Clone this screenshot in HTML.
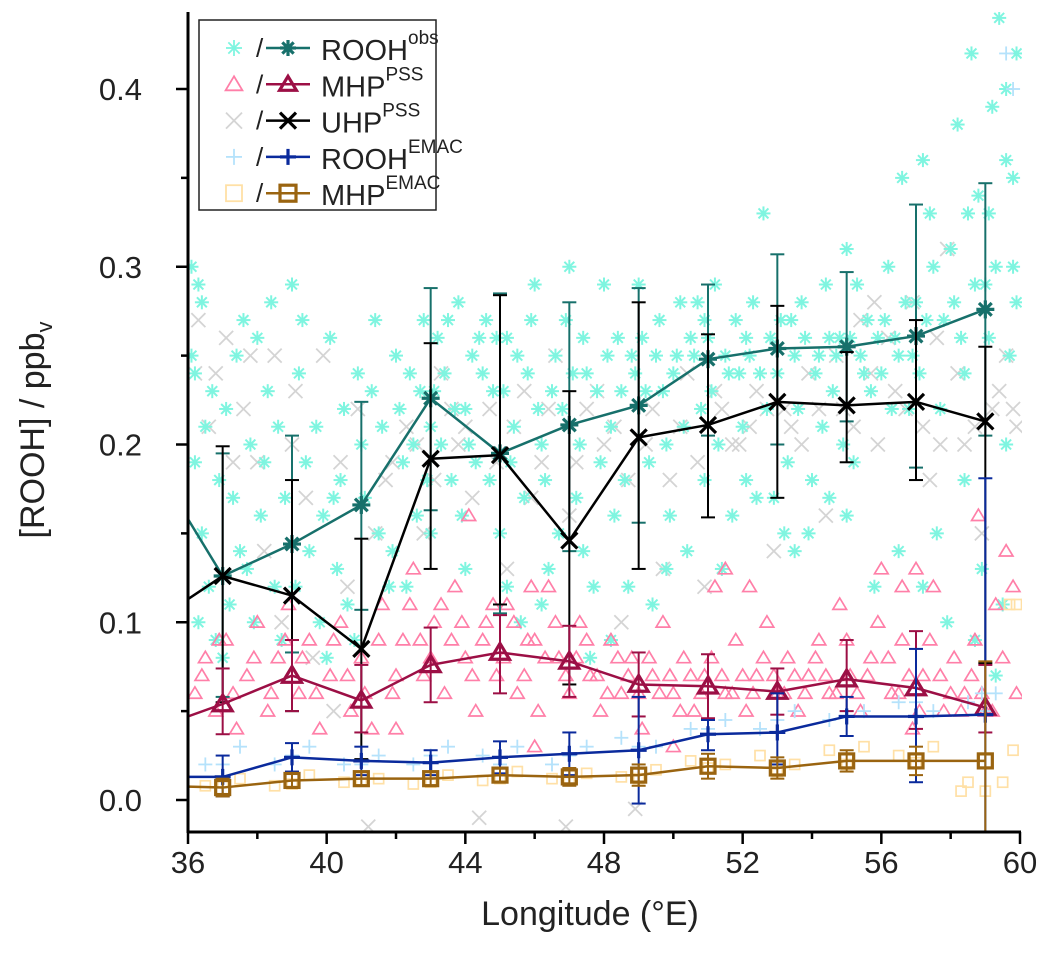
<!DOCTYPE html>
<html><head><meta charset="utf-8"><style>
body{margin:0;background:#fff;}
svg{font-family:"Liberation Sans",Arial,sans-serif;}
</style></head><body>
<svg id="chart" width="1048" height="965" viewBox="0 0 1048 965" xmlns="http://www.w3.org/2000/svg">
<defs><clipPath id="pc"><rect x="188" y="12" width="834" height="820"/></clipPath></defs>
<g id="scatter" clip-path="url(#pc)"></g>
<g id="lines" clip-path="url(#pc)"></g>
<g id="axes"></g>
<text x="590" y="925" font-size="34" text-anchor="middle" fill="#222">Longitude (°E)</text>
<text transform="translate(44,430) rotate(-90)" font-size="34" text-anchor="middle" fill="#222">[ROOH] / ppb<tspan font-size="22" dy="8">v</tspan></text>
<g id="legend"></g>
</svg>
<script>
const xTicks=[36,40,44,48,52,56,60];
const yTicks=[0.0,0.1,0.2,0.3,0.4];
const meanX=[35,37,39,41,43,45,47,49,51,53,55,57,59];
const obsMean=[0.19,0.126,0.144,0.166,0.226,0.195,0.211,0.222,0.248,0.254,0.255,0.261,0.276];
const obsHi=[null,0.195,0.205,0.224,0.288,0.285,0.280,0.288,0.290,0.307,0.297,0.335,0.347];
const obsLo=[null,0.058,0.083,0.107,0.163,0.105,0.140,0.156,0.205,0.200,0.213,0.187,0.205];
const uhpMean=[0.10,0.126,0.115,0.085,0.192,0.194,0.146,0.204,0.211,0.224,0.222,0.224,0.213];
const uhpHi=[null,0.199,0.180,0.147,0.257,0.284,0.230,0.280,0.262,0.278,0.252,0.270,0.255];
const uhpLo=[null,0.055,0.050,0.023,0.130,0.110,0.065,0.130,0.159,0.170,0.190,0.180,0.077];
const mhpMean=[0.04,0.054,0.070,0.056,0.076,0.083,0.078,0.065,0.064,0.061,0.068,0.063,0.052];
const mhpHi=[null,0.074,0.090,0.076,0.097,0.104,0.098,0.083,0.082,0.074,0.090,0.095,0.076];
const mhpLo=[null,0.037,0.050,0.038,0.055,0.060,0.058,0.047,0.046,0.048,0.050,0.040,0.038];
const emacMean=[0.013,0.013,0.024,0.022,0.021,0.024,0.026,0.028,0.037,0.038,0.047,0.047,0.048];
const emacHi=[null,0.025,0.032,0.030,0.028,0.033,0.038,0.058,0.045,0.060,0.058,0.085,0.181];
const emacLo=[null,0.002,0.016,0.014,0.014,0.015,0.014,-0.002,0.028,0.020,0.036,0.010,-0.030];
const mhpEmacMean=[0.008,0.007,0.011,0.012,0.012,0.014,0.013,0.014,0.019,0.018,0.022,0.022,0.022];
const mhpEmacHi=[null,0.012,0.015,0.016,0.016,0.018,0.018,0.020,0.026,0.024,0.028,0.030,0.078];
const mhpEmacLo=[null,0.002,0.007,0.008,0.008,0.010,0.008,0.008,0.012,0.012,0.016,0.014,-0.030];
const cyanPts=[36.1,.30,36.3,.29,36.2,.24,36.5,.21,36.2,.19,36.4,.15,36.6,.12,36.3,.10,36.8,.09,37.0,.08,37.2,.11,37.5,.14,37.3,.17,37.8,.20,37.6,.27,38.0,.26,38.3,.23,38.1,.16,38.5,.12,38.7,.09,39.0,.29,39.2,.24,39.4,.19,39.5,.14,39.8,.10,40.0,.08,40.2,.17,40.5,.22,40.3,.13,40.8,.09,41.0,.20,41.3,.23,41.5,.15,41.8,.12,42.0,.25,42.2,.19,42.4,.24,42.6,.16,42.8,.27,43.0,.21,43.2,.26,43.4,.24,43.6,.18,43.8,.28,44.0,.22,44.2,.25,44.3,.19,44.6,.27,44.8,.23,45.0,.15,45.2,.26,45.4,.21,45.6,.10,45.8,.24,46.0,.29,46.2,.20,46.4,.13,46.6,.25,46.8,.22,47.0,.30,47.2,.17,47.4,.26,47.6,.08,47.8,.23,48.0,.29,48.2,.21,48.4,.26,48.6,.18,48.8,.25,49.0,.29,49.2,.23,49.4,.11,49.6,.27,49.8,.20,50.0,.24,50.2,.28,50.4,.14,50.6,.25,50.8,.22,51.0,.26,51.2,.29,51.4,.13,51.6,.24,51.8,.27,52.0,.21,52.2,.25,52.4,.17,52.6,.33,52.8,.26,53.0,.24,53.2,.15,53.4,.27,53.6,.22,53.8,.26,54.0,.18,54.2,.25,54.4,.29,54.6,.23,54.8,.26,55.0,.31,55.2,.19,55.4,.25,55.6,.27,55.8,.12,56.0,.24,56.2,.30,56.4,.26,56.6,.35,56.8,.22,57.0,.28,57.2,.36,57.4,.33,57.6,.15,57.8,.27,58.0,.31,58.2,.38,58.4,.24,58.6,.42,58.8,.34,59.0,.29,59.2,.39,59.4,.44,59.6,.36,59.8,.30,59.9,.42,59.5,.11,58.9,.13,57.9,.10,59.7,.25,44.5,.24,45.5,.25,46.5,.23,47.5,.24,49.5,.25,50.5,.26,51.5,.25,52.5,.24,53.5,.25,54.5,.26,55.5,.24,56.5,.25,51.7,.16,52.9,.17,53.9,.15,55.0,.16,43.1,.23,44.9,.26,46.9,.27,48.9,.24,50.9,.27,52.1,.26,54.1,.24,56.1,.27,58.1,.28,59.1,.33,
36.1,.25,36.4,.28,36.7,.23,36.9,.18,37.1,.22,37.4,.25,37.7,.13,37.9,.10,38.2,.19,38.4,.28,38.6,.21,38.8,.17,39.1,.12,39.3,.27,39.7,.21,39.9,.16,40.1,.26,40.4,.18,40.6,.11,40.9,.24,41.1,.17,41.4,.27,41.6,.21,41.9,.14,42.1,.22,42.3,.12,42.5,.20,42.7,.23,42.9,.18,43.3,.20,43.5,.27,43.7,.22,43.9,.16,44.1,.20,44.4,.26,44.7,.18,45.1,.23,45.3,.19,45.7,.17,45.9,.27,46.1,.22,46.3,.18,46.7,.15,47.1,.24,47.3,.20,47.7,.12,47.9,.19,48.1,.25,48.3,.16,48.5,.23,48.7,.12,49.1,.26,49.3,.19,49.7,.23,49.9,.16,50.1,.25,50.3,.21,50.7,.28,51.1,.23,51.3,.20,51.9,.24,52.3,.28,52.7,.22,53.1,.27,53.3,.19,53.7,.28,54.3,.21,54.7,.25,54.9,.20,55.1,.26,55.3,.29,55.7,.23,55.9,.26,56.3,.22,56.7,.28,56.9,.25,57.1,.24,57.3,.27,57.5,.30,57.7,.22,58.3,.26,58.5,.33,58.7,.29,59.1,.26,59.3,.30,59.6,.40,59.8,.35,59.9,.28,58.4,.18,57.2,.12,56.5,.14,58.7,.09,59.3,.07,59.6,.20,46.2,.11,47.4,.14,48.2,.09,49.8,.13,45.2,.12,50.9,.18,52.1,.18,53.5,.14,54.5,.17,44.0,.13,43.0,.15];
const pinkPts=[36.2,.06,36.5,.08,36.8,.05,37.1,.09,37.4,.04,37.7,.07,38.0,.10,38.3,.05,38.6,.08,38.9,.11,39.2,.06,39.5,.09,39.8,.04,40.1,.07,40.4,.10,40.7,.05,41.0,.08,41.3,.04,41.6,.11,41.9,.06,42.2,.09,42.5,.13,42.8,.07,43.1,.10,43.4,.06,43.7,.12,44.0,.08,44.3,.05,44.6,.10,44.9,.07,45.2,.11,45.5,.06,45.8,.09,46.1,.05,46.4,.12,46.7,.08,47.0,.06,47.3,.10,47.6,.07,47.9,.05,48.2,.09,48.5,.06,48.8,.08,49.1,.04,49.4,.07,49.7,.10,50.0,.06,50.3,.08,50.6,.05,50.9,.07,51.2,.12,51.5,.06,51.8,.09,52.1,.05,52.4,.07,52.7,.10,53.0,.06,53.3,.08,53.6,.05,53.9,.07,54.2,.09,54.5,.06,54.8,.11,55.1,.07,55.4,.05,55.7,.08,56.0,.13,56.3,.06,56.6,.09,56.9,.04,57.2,.07,57.5,.12,57.8,.05,58.1,.08,58.4,.06,58.7,.09,59.0,.05,59.3,.11,59.6,.14,59.9,.06,44.1,.16,52.2,.12,58.8,.16,42.0,.04,46.0,.03,50.0,.03,
36.4,.07,36.9,.09,37.3,.06,37.9,.08,38.4,.06,38.8,.09,39.3,.08,39.7,.06,40.2,.09,40.6,.07,41.1,.06,41.5,.09,42.0,.07,42.4,.11,42.7,.09,43.0,.08,43.3,.11,43.6,.09,43.9,.10,44.2,.07,44.5,.09,44.8,.11,45.1,.08,45.4,.10,45.7,.07,46.0,.09,46.3,.08,46.6,.10,46.9,.07,47.2,.08,47.5,.09,47.8,.07,48.1,.06,48.4,.08,48.7,.07,49.0,.06,49.3,.08,49.6,.06,49.9,.07,50.2,.05,50.5,.07,50.8,.06,51.1,.08,51.4,.07,51.7,.06,52.0,.07,52.3,.06,52.6,.08,52.9,.07,53.2,.06,53.5,.07,53.8,.06,54.1,.08,54.4,.07,54.7,.06,55.0,.09,55.3,.06,55.6,.07,55.9,.10,56.2,.08,56.5,.06,56.8,.07,57.1,.05,57.4,.09,57.7,.07,58.0,.06,58.3,.05,58.6,.07,58.9,.06,59.2,.05,59.5,.08,59.8,.12,57.0,.13,56.6,.12,51.5,.13,45.9,.12];
const greyPts=[36.3,.27,36.8,.24,37.3,.19,37.8,.25,38.2,.14,38.7,.10,39.1,.23,39.6,.08,40.2,.05,40.6,.12,41.2,-.015,41.7,.18,42.3,.21,42.8,.15,43.3,.24,43.8,.20,44.2,.17,44.4,-.01,44.7,.22,45.2,.13,45.7,.23,46.2,.19,46.6,.25,47.0,.16,46.9,-.015,47.5,.22,48.0,.20,48.5,.10,48.9,-.005,49.4,.22,49.9,.18,50.4,.24,50.9,.12,51.4,.22,51.9,.20,52.4,.23,52.9,.14,53.4,.21,53.9,.24,54.4,.16,54.9,.22,55.4,.27,55.9,.20,56.4,.23,56.9,.28,57.4,.18,57.9,.31,58.4,.20,58.9,.15,59.4,.23,59.8,.22,59.6,.25,
36.2,.24,36.6,.21,37.1,.26,37.6,.22,38.0,.19,38.5,.25,39.0,.20,39.4,.17,39.9,.25,40.4,.19,40.9,.22,41.4,.15,41.9,.19,42.6,.20,43.1,.18,43.6,.22,44.0,.21,44.9,.19,45.4,.21,45.9,.17,46.4,.22,47.2,.19,47.8,.23,48.3,.21,48.7,.18,49.2,.20,49.7,.13,50.2,.21,50.7,.19,51.2,.23,51.7,.20,52.2,.21,52.7,.22,53.2,.22,53.7,.20,54.2,.22,54.7,.25,55.2,.21,55.7,.24,56.2,.26,56.7,.22,57.2,.21,57.7,.20,58.2,.24,58.7,.21,59.2,.22,59.9,.21,57.6,.26,55.8,.28];
const bluePts=[36.5,.02,37.5,.03,38.5,.02,39.5,.03,40.5,.02,41.5,.025,42.5,.02,43.5,.03,44.5,.025,45.5,.03,46.5,.02,47.5,.03,48.5,.035,49.5,.03,50.5,.04,51.5,.045,52.5,.04,53.5,.05,54.5,.045,55.5,.05,56.5,.055,57.5,.05,58.5,.055,59.3,.06,59.8,.40,59.6,.42,58.9,.06,37.0,.02,39.0,.025,41.0,.02,43.0,.025,45.0,.02,47.0,.025,49.0,.03,51.0,.04,53.0,.045,55.0,.05,57.0,.055,59.0,.05];
const tanPts=[36.5,.008,37.5,.012,38.5,.008,39.5,.014,40.5,.01,41.5,.012,42.5,.009,43.5,.014,44.5,.011,45.5,.016,46.5,.012,47.5,.015,48.5,.013,49.5,.017,50.5,.022,51.5,.02,52.5,.025,53.5,.02,54.5,.028,55.5,.03,56.5,.025,57.5,.03,58.5,.01,59.0,.005,59.5,.01,59.8,.028,59.7,.11,59.9,.11,58.3,.005,37.0,.01,39.0,.009,41.0,.011,43.0,.01,45.0,.012,47.0,.011,49.0,.012,51.0,.018,53.0,.016,55.0,.02,57.0,.021];

const NS='http://www.w3.org/2000/svg';
const X0=188,X1=1020,Y0=800,PPU=1777.5;
const sx=v=>X0+(v-36)*(X1-X0)/24;
const sy=v=>Y0-v*PPU;
function mk(tag,attrs,parent){const e=document.createElementNS(NS,tag);for(const k in attrs)e.setAttribute(k,attrs[k]);parent.appendChild(e);return e;}
function marker(type,x,y,r,color,sw,parent){
  const g=mk('g',{stroke:color,'stroke-width':sw,fill:'none'},parent);
  if(type==='star'){for(let i=0;i<4;i++){const a=i*Math.PI/4;mk('line',{x1:x-r*Math.cos(a),y1:y-r*Math.sin(a),x2:x+r*Math.cos(a),y2:y+r*Math.sin(a)},g);}}
  else if(type==='tri'){mk('polygon',{points:`${x},${y-r} ${x-r*1.05},${y+r*0.75} ${x+r*1.05},${y+r*0.75}`},g);}
  else if(type==='x'){mk('line',{x1:x-r,y1:y-r,x2:x+r,y2:y+r},g);mk('line',{x1:x-r,y1:y+r,x2:x+r,y2:y-r},g);}
  else if(type==='plus'){mk('line',{x1:x-r,y1:y,x2:x+r,y2:y},g);mk('line',{x1:x,y1:y-r,x2:x,y2:y+r},g);}
  else if(type==='sq'){mk('rect',{x:x-r,y:y-r,width:2*r,height:2*r},g);}
  return g;
}
const sc=document.getElementById('scatter');
function cloud(pts,type,color,r,sw,name){
  for(let i=0;i<pts.length;i+=2){
    const g=marker(type,sx(pts[i]),sy(pts[i+1]),r,color,sw,sc);
    
    
  }
}
cloud(greyPts,'x','#d4d4d4',7,1.8,'uhp-scatter-point');
cloud(cyanPts,'star','#7ff5e0',7,2,'rooh-obs-scatter-point');
cloud(pinkPts,'tri','#ff7fa8',6.5,1.7,'mhp-scatter-point');
cloud(bluePts,'plus','#b5e2fb',7,1.8,'rooh-emac-scatter-point');
cloud(tanPts,'sq','#ffe0a6',5,1.7,'mhp-emac-scatter-point');

const ln=document.getElementById('lines');
function series(mean,hi,lo,type,color,r,name){
  let d='';
  meanX.forEach((x,i)=>{d+=(i?'L':'M')+sx(x)+','+sy(mean[i]);});
  const p=mk('path',{d:d,fill:'none',stroke:color,'stroke-width':2.5},ln);
  
  
  meanX.forEach((x,i)=>{
    if(hi[i]!==null){
      const eb=mk('g',{stroke:color,'stroke-width':2},ln);
      
      
      mk('line',{x1:sx(x),y1:sy(hi[i]),x2:sx(x),y2:sy(lo[i])},eb);
      mk('line',{x1:sx(x)-7,y1:sy(hi[i]),x2:sx(x)+7,y2:sy(hi[i])},eb);
      mk('line',{x1:sx(x)-7,y1:sy(lo[i]),x2:sx(x)+7,y2:sy(lo[i])},eb);
    }
    const m=marker(type,sx(x),sy(mean[i]),r,color,3.2,ln);
    
    
  });
}
series(obsMean,obsHi,obsLo,'star','#17706b',9,'rooh-obs');
series(uhpMean,uhpHi,uhpLo,'x','#000000',8,'uhp-pss');
series(mhpMean,mhpHi,mhpLo,'tri','#9c0f45',9,'mhp-pss');
series(emacMean,emacHi,emacLo,'plus','#0a2a9c',8,'rooh-emac');
series(mhpEmacMean,mhpEmacHi,mhpEmacLo,'sq','#9a6410',7,'mhp-emac');

const ax=document.getElementById('axes');
mk('line',{x1:188,y1:12,x2:188,y2:833,stroke:'#000','stroke-width':3},ax);
mk('line',{x1:187,y1:832,x2:1021,y2:832,stroke:'#000','stroke-width':3},ax);
xTicks.forEach(v=>{
  mk('line',{x1:sx(v),y1:832,x2:sx(v),y2:844,stroke:'#000','stroke-width':2.5},ax);
  const t=mk('text',{x:sx(v),y:873,'font-size':31,'text-anchor':'middle',fill:'#222'},ax);
  t.textContent=v;
  
  
});
for(let v=36;v<=60;v+=2){ if(v%4) mk('line',{x1:sx(v),y1:832,x2:sx(v),y2:839,stroke:'#000','stroke-width':2.5},ax);}
yTicks.forEach(v=>{
  mk('line',{x1:176,y1:sy(v),x2:188,y2:sy(v),stroke:'#000','stroke-width':2.5},ax);
  const t=mk('text',{x:142,y:sy(v)+11,'font-size':31,'text-anchor':'end',fill:'#222'},ax);
  t.textContent=v.toFixed(1);
  
  
  if(v<0.4) mk('line',{x1:181,y1:sy(v+0.05),x2:188,y2:sy(v+0.05),stroke:'#000','stroke-width':2.5},ax);
});

const lg=document.getElementById('legend');
mk('rect',{x:199,y:20,width:237,height:190,fill:'#fff',stroke:'#222','stroke-width':1.5},lg);
const legNames=['ROOH','MHP','UHP','ROOH','MHP'];
const legSup=['obs','PSS','PSS','EMAC','EMAC'];
const legTypes=['star','tri','x','plus','sq'];
const legLight=['#7ff5e0','#ff7fa8','#d4d4d4','#b5e2fb','#ffe0a6'];
const legDark=['#17706b','#9c0f45','#000000','#0a2a9c','#9a6410'];
legNames.forEach((n,i)=>{
  const y=48+i*36.3;
  const g=mk('g',{},lg);
  
  
  marker(legTypes[i],234,y,8,legLight[i],1.8,g);
  const s=mk('text',{x:256,y:y+9,'font-size':26,fill:'#222'},g);s.textContent='/';
  mk('line',{x1:266,y1:y,x2:310,y2:y,stroke:legDark[i],'stroke-width':2.5},g);
  marker(legTypes[i],288,y,8,legDark[i],3.2,g);
  const t=mk('text',{x:321,y:y+12,'font-size':29,fill:'#222'},g);
  t.textContent=n;
  const sp=mk('tspan',{'font-size':19,dy:-16},t);sp.textContent=legSup[i];
});
</script>
</body></html>
